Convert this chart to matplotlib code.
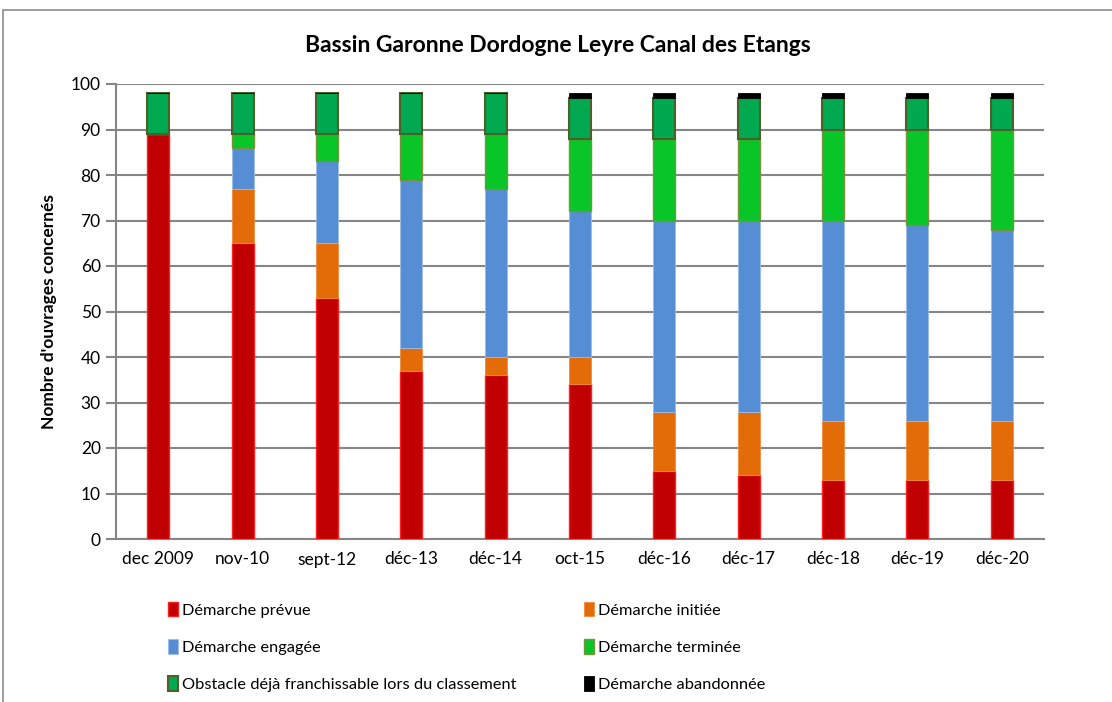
import numpy as np
import matplotlib
matplotlib.use("Agg")
import matplotlib.pyplot as plt
from matplotlib.patches import Rectangle

plt.rcParams['font.family'] = ['Lato', 'DejaVu Sans']

# Data
dates = ['dec 2009', 'nov-10', 'sept-12', 'déc-13', 'déc-14', 'oct-15',
         'déc-16', 'déc-17', 'déc-18', 'déc-19', 'déc-20']
prevue = [89, 65, 53, 37, 36, 34, 15, 14, 13, 13, 13]
initiee = [0, 12, 12, 5, 4, 6, 13, 14, 13, 13, 13]
engagee = [0, 9, 18, 37, 37, 32, 42, 42, 44, 43, 42]
terminee = [0, 3, 6, 10, 12, 16, 18, 18, 20, 21, 22]
obstacle = [9, 9, 9, 9, 9, 9, 9, 9, 7, 7, 7]
abandonnee = [0, 0, 0, 0, 0, 1, 1, 1, 1, 1, 1]

series = [
    ('Démarche prévue', prevue, '#C00000', '#FF2020', 1.0),
    ('Démarche initiée', initiee, '#E36C09', '#F08A3A', 0.6),
    ('Démarche engagée', engagee, '#558ED5', '#9DBDE8', 0.6),
    ('Démarche terminée', terminee, '#08C628', '#77933C', 1.0),
    ('Obstacle déjà franchissable lors du classement', obstacle, '#00A850', '#4F5F2A', 1.5),
    ('Démarche abandonnée', abandonnee, '#000000', '#000000', 0.6),
]

W, H = 1112, 702
fig = plt.figure(figsize=(W / 100, H / 100), dpi=100, facecolor='white')
ax = fig.add_axes([116 / W, 1 - 539 / H, (1044 - 116) / W, (539 - 84) / H])

x = np.arange(len(dates))
bottom = np.zeros(len(dates))
handles = {}
for label, vals, fc, ec, lw in series:
    vals = np.array(vals, dtype=float)
    bars = ax.bar(x, vals, width=0.26, bottom=bottom, color=fc, edgecolor=ec,
                  linewidth=lw, label=label, zorder=3)
    handles[label] = bars
    bottom += vals

ax.set_xlim(-0.5, len(dates) - 0.5)
ax.set_ylim(0, 100)
ax.set_yticks(np.arange(0, 101, 10))
ax.set_xticks(x)
ax.set_xticklabels(dates, fontsize=12.5)
ax.tick_params(axis='y', labelsize=12.5, length=7, color='#868686', width=1.5, pad=4)
ax.tick_params(axis='x', length=0, pad=9)
ax.grid(axis='y', color='#868686', lw=1.5, zorder=0)
ax.set_axisbelow(True)
for s in ('top', 'right'):
    ax.spines[s].set_visible(False)
for s in ('left', 'bottom'):
    ax.spines[s].set_color('#868686')
    ax.spines[s].set_linewidth(1.5)

ax.set_ylabel("Nombre d'ouvrages concernés", fontsize=12.5, fontweight='bold', labelpad=10)
fig.text(558 / W, 1 - 45 / H, 'Bassin Garonne Dordogne Leyre Canal des Etangs',
         ha='center', va='center', fontsize=16.5, fontweight='bold')

# two legend columns
leg_kw = dict(frameon=False, fontsize=11.8, handlelength=0.6, handleheight=1.0,
              handletextpad=0.3, labelspacing=1.3, loc='upper left')
col1 = ['Démarche prévue', 'Démarche engagée', 'Obstacle déjà franchissable lors du classement']
col2 = ['Démarche initiée', 'Démarche terminée', 'Démarche abandonnée']
fig.legend([handles[k] for k in col1], col1, bbox_to_anchor=(153 / W, 1 - 587 / H), **leg_kw)
fig.legend([handles[k] for k in col2], col2, bbox_to_anchor=(569 / W, 1 - 587 / H), **leg_kw)

# outer chart frame
fig.patches.append(Rectangle((3 / W, -0.1), 1.2, 1 - 10 / H + 0.1, transform=fig.transFigure,
                             fill=False, edgecolor='#8C8C8C', lw=1.2))

fig.savefig('out.png', dpi=100)
